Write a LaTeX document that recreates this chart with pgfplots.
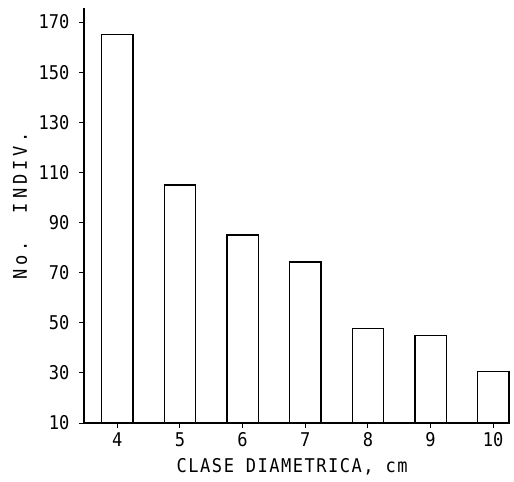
\documentclass[border=0pt]{standalone}
\usepackage{fontspec}
\setmainfont{DejaVu Sans Mono}[FakeStretch=0.9]
\usepackage{pgfplots}
\pgfplotsset{compat=1.18}
\begin{document}
\begin{tikzpicture}
\begin{axis}[
  scale only axis,
  width=423bp, height=415bp,
  xmin=3.47, xmax=10.22,
  ymin=10, ymax=175.6,
  axis lines=left,
  axis line style={-, line width=1.3pt},
  ytick={10,30,50,70,90,110,130,150,170},
  xtick={4,5,6,7,8,9,10},
  tick align=outside,
  major tick length=5bp,
  tick style={line width=1pt, black},
  /pgf/number format/assume math mode=true,
  ticklabel style={font=\fontsize{19}{19}\selectfont},
  yticklabel style={xshift=-6bp},
  xticklabel style={yshift=-1bp},
  xlabel={\addfontfeature{LetterSpace=8}CLASE DIAMETRICA, cm},
  ylabel={\addfontfeature{LetterSpace=20}No.\ \ INDIV.},
  label style={font=\fontsize{19}{19}\selectfont},
  xlabel style={at={(axis description cs:0.492,-0.118)}, anchor=base},
  ylabel style={at={(axis description cs:-0.151,0.523)}, anchor=center, rotate=0},
  clip=false,
]
\addplot[ybar, bar width=0.5, fill=white, draw=black, line width=1.3pt]
  coordinates {(4,165) (5,105) (6,85) (7,74.3) (8,47.6) (9,44.8) (10,30.6)};
\path (axis description cs:-0.1986,-0.1398) rectangle (axis description cs:1.0165,1.0193);
\end{axis}
\end{tikzpicture}
\end{document}
